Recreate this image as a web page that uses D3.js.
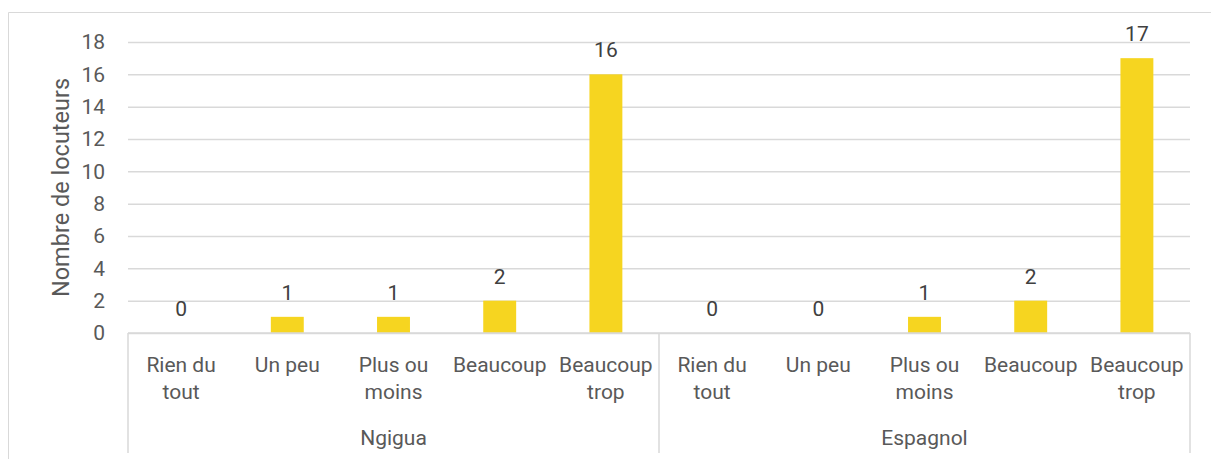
<!DOCTYPE html>
<html>
<head>
<meta charset="utf-8">
<script src="https://cdn.jsdelivr.net/npm/d3@7"></script>
<style>
  body { margin: 0; background: #fff; }
  svg { display: block; font-family: Roboto, "Noto Sans", sans-serif; }
</style>
</head>
<body>
<svg id="chart" width="1211" height="459"></svg>
<script>
var groups = ["Ngigua", "Espagnol"];
var levels = [["Rien du", "tout"], ["Un peu"], ["Plus ou", "moins"], ["Beaucoup"], ["Beaucoup", "trop"]];
var ngiguaValues = [0, 1, 1, 2, 16];
var espagnolValues = [0, 0, 1, 2, 17];
var yTicks = [0, 2, 4, 6, 8, 10, 12, 14, 16, 18];
var yTitle = "Nombre de locuteurs";

var series = [ngiguaValues, espagnolValues];
var rows = [];
groups.forEach(function(g, gi) {
	levels.forEach(function(l, li) {
		rows.push({ key: g + "-" + li, group: g, label: l, value: series[gi][li] });
	});
});

var svg = d3.select("#chart");
var plotLeft = 128, plotRight = 1190, plotTop = 42, plotBottom = 333;
var textColor = "#595959", lineColor = "#d9d9d9";

// chart area border
svg.append("path")
	.attr("d", "M8.5,459 L8.5,12.5 L1211,12.5")
	.attr("fill", "none")
	.attr("stroke", lineColor)
	.attr("stroke-width", 1);

var x = d3.scaleBand()
	.domain(rows.map(function(d) { return d.key; }))
	.range([plotLeft, plotRight])
	.paddingInner(0.69)
	.paddingOuter(0.345);

var y = d3.scaleLinear().domain([0, 18]).range([plotBottom, plotTop]);

// gridlines
svg.append("g")
	.attr("transform", "translate(" + plotLeft + ",0)")
	.call(d3.axisLeft(y).tickValues(yTicks).tickSize(-(plotRight - plotLeft)).tickFormat(""))
	.call(function(g) {
		g.select(".domain").remove();
		g.selectAll("line").attr("stroke", lineColor).attr("stroke-width", 1.5);
	});

// y tick labels
svg.append("g")
	.attr("transform", "translate(" + plotLeft + ",0)")
	.call(d3.axisLeft(y).tickValues(yTicks).tickSize(0).tickPadding(23))
	.call(function(g) {
		g.select(".domain").remove();
		g.selectAll("text")
			.attr("fill", textColor)
			.style("font-size", "21px")
			.style("font-family", "Roboto");
	});

// bars
svg.append("g").selectAll("rect")
	.data(rows)
	.join("rect")
	.attr("x", function(d) { return x(d.key); })
	.attr("width", x.bandwidth())
	.attr("y", function(d) { return y(d.value); })
	.attr("height", function(d) { return y(0) - y(d.value); })
	.attr("fill", "#f6d520");

// value labels
svg.append("g").selectAll("text")
	.data(rows)
	.join("text")
	.attr("x", function(d) { return x(d.key) + x.bandwidth() / 2; })
	.attr("y", function(d) { return y(d.value) - 17; })
	.attr("text-anchor", "middle")
	.attr("fill", "#404040")
	.style("font-size", "21px")
	.text(function(d) { return d.value; });

// x axis line
svg.append("line")
	.attr("x1", plotLeft).attr("x2", plotRight)
	.attr("y1", plotBottom).attr("y2", plotBottom)
	.attr("stroke", lineColor)
	.attr("stroke-width", 1.5);

// category labels
var cat = svg.append("g").selectAll("text")
	.data(rows)
	.join("text")
	.attr("x", function(d) { return x(d.key) + x.bandwidth() / 2; })
	.attr("y", 372)
	.attr("text-anchor", "middle")
	.attr("fill", textColor)
	.style("font-size", "21px");
cat.selectAll("tspan")
	.data(function(d) { return d.label.map(function(t) { return { t: t, x: x(d.key) + x.bandwidth() / 2 }; }); })
	.join("tspan")
	.attr("x", function(t) { return t.x; })
	.attr("dy", function(t, i) { return i ? 27 : 0; })
	.text(function(t) { return t.t; });

// group separators and labels
var groupX = d3.scaleBand().domain(groups).range([plotLeft, plotRight]);
var seps = [plotLeft].concat(groups.map(function(g) { return groupX(g) + groupX.bandwidth(); }));
svg.append("g").selectAll("line")
	.data(seps)
	.join("line")
	.attr("x1", function(d) { return d; }).attr("x2", function(d) { return d; })
	.attr("y1", plotBottom).attr("y2", 453)
	.attr("stroke", lineColor)
	.attr("stroke-width", 1.5);

svg.append("g").selectAll("text")
	.data(groups)
	.join("text")
	.attr("x", function(g) { return groupX(g) + groupX.bandwidth() / 2; })
	.attr("y", 445)
	.attr("text-anchor", "middle")
	.attr("fill", textColor)
	.style("font-size", "21px")
	.text(function(g) { return g; });

// y axis title
svg.append("text")
	.attr("transform", "translate(69," + ((plotTop + plotBottom) / 2) + ") rotate(-90)")
	.attr("text-anchor", "middle")
	.attr("fill", textColor)
	.style("font-size", "23.5px")
	.text(yTitle);
</script>
</body>
</html>
